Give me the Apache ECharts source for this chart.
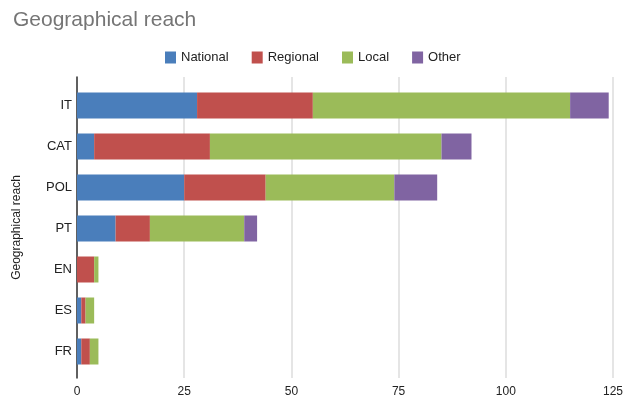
<!DOCTYPE html>
<html>
<head>
<meta charset="utf-8">
<script src="https://cdn.jsdelivr.net/npm/echarts@6/dist/echarts.min.js"></script>
<style>html,body{margin:0;padding:0;background:#fff;}#c{width:636px;height:398px;}</style>
</head>
<body>
<div id="c"></div>
<script>
const categories = ['IT', 'CAT', 'POL', 'PT', 'EN', 'ES', 'FR'];
const national = [28, 4, 25, 9, 0, 1, 1];
const regional = [27, 27, 19, 8, 4, 1, 2];
const local = [60, 54, 30, 22, 1, 2, 2];
const other = [9, 7, 10, 3, 0, 0, 0];
const xTicks = { min: 0, max: 125, interval: 25 };
const seriesNames = ['National', 'Regional', 'Local', 'Other'];
const colors = ['#4a7ebb', '#c0504d', '#9bbb59', '#8064a2'];

const font = 'Liberation Sans, Arial, sans-serif';
const chart = echarts.init(document.getElementById('c'), null, { renderer: 'canvas' });
const values = [national, regional, local, other];

chart.setOption({
  backgroundColor: '#fff',
  animation: false,
  color: colors,
  title: {
    text: 'Geographical reach',
    left: 8, top: 5,
    textStyle: { fontFamily: font, fontSize: 21, fontWeight: 'normal', color: '#757575' }
  },
  legend: {
    data: seriesNames,
    left: 160, top: 46,
    itemWidth: 11, itemHeight: 12, itemGap: 23,
    icon: 'rect',
    textStyle: { fontFamily: font, fontSize: 13, color: '#222' }
  },
  grid: [
    { left: 77, right: 23, top: 77, bottom: 20 },
    { left: 77, right: 23, top: 85, bottom: 26 }
  ],
  xAxis: [
    {
      gridIndex: 0, type: 'value', min: xTicks.min, max: xTicks.max, interval: xTicks.interval,
      axisLine: { show: false }, axisTick: { show: false },
      splitLine: { show: true, lineStyle: { color: '#dcdcdc', width: 1.5 } },
      axisLabel: { fontFamily: font, fontSize: 12, color: '#222', margin: 8 }
    },
    {
      gridIndex: 1, type: 'value', min: xTicks.min, max: xTicks.max, interval: xTicks.interval,
      show: false
    }
  ],
  yAxis: [
    {
      gridIndex: 0, type: 'value', min: 0, max: 1,
      axisLine: { show: true, lineStyle: { color: '#333', width: 1.5 } },
      axisTick: { show: false }, axisLabel: { show: false }, splitLine: { show: false },
      name: 'Geographical reach', nameLocation: 'middle', nameRotate: 90, nameGap: 54,
      nameTextStyle: { fontFamily: font, fontSize: 12, color: '#222' }
    },
    {
      gridIndex: 1, type: 'category', data: categories, inverse: true,
      axisLine: { show: false }, axisTick: { show: false },
      axisLabel: { fontFamily: font, fontSize: 13, color: '#222', margin: 5 }
    }
  ],
  series: seriesNames.map((n, i) => ({
    name: n, type: 'bar', stack: 'total',
    xAxisIndex: 1, yAxisIndex: 1,
    barWidth: 26,
    data: values[i],
    itemStyle: { color: colors[i] }
  }))
});
</script>
</body>
</html>
